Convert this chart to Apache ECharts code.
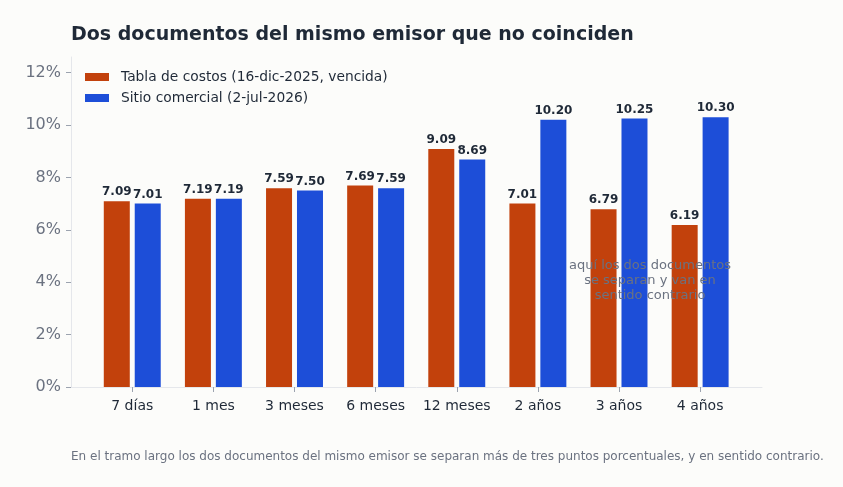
<!DOCTYPE html>
<html><head><meta charset="utf-8">
<script src="https://cdn.jsdelivr.net/npm/echarts@6/dist/echarts.min.js"></script>
<style>html,body{margin:0;padding:0;background:#fcfcfa;}#c{width:843px;height:487px;}</style>
</head><body><div id="c"></div>
<script>
const categories = ['7 días','1 mes','3 meses','6 meses','12 meses','2 años','3 años','4 años'];
const tablaCostos = [7.09, 7.19, 7.59, 7.69, 9.09, 7.01, 6.79, 6.19];
const sitioComercial = [7.01, 7.19, 7.50, 7.59, 8.69, 10.20, 10.25, 10.30];
const seriesNames = ['Tabla de costos (16-dic-2025, vencida)', 'Sitio comercial (2-jul-2026)'];
const titleText = 'Dos documentos del mismo emisor que no coinciden';
const noteText = 'aquí los dos documentos\nse separan y van en\nsentido contrario';
const footText = 'En el tramo largo los dos documentos del mismo emisor se separan más de tres puntos porcentuales, y en sentido contrario.';

const chart = echarts.init(document.getElementById('c'));
const font = 'DejaVu Sans';
const lbl = {show:true, position:'top', distance:3, color:'#1f2937', fontWeight:'bold', fontSize:12, fontFamily:font, formatter: p => p.value.toFixed(2)};
chart.setOption({
  backgroundColor:'#fcfcfa',
  textStyle:{fontFamily:font},
  title:{text:titleText, left:66, top:21, textStyle:{fontSize:19, fontWeight:'bold', color:'#1f2937', fontFamily:font}},
  legend:{orient:'vertical', left:80, top:65, itemWidth:24, itemHeight:8, itemGap:7, icon:'rect',
    textStyle:{fontSize:13.8, color:'#1f2937', fontFamily:font, padding:[0,0,0,7]}, data:seriesNames},
  grid:[
    {left:71, right:81, top:57, bottom:100, containLabel:false},
    {left:91.7, right:102.3, top:57, bottom:100, containLabel:false}
  ],
  xAxis:[
    {type:'value', gridIndex:0, min:0, max:1,
      axisLine:{show:true, lineStyle:{color:'#e5e7eb'}},
      axisTick:{show:false}, axisLabel:{show:false}, splitLine:{show:false}},
    {type:'category', gridIndex:1, data:categories,
      axisLine:{show:false},
      axisTick:{show:true, alignWithLabel:true, length:5, lineStyle:{color:'#9ca3af'}},
      axisLabel:{color:'#1f2937', fontSize:14, margin:12, interval:0, fontFamily:font}}
  ],
  yAxis:[
    {type:'value', gridIndex:0, min:0, max:12.6, interval:2,
      axisLine:{show:true, lineStyle:{color:'#e5e7eb'}},
      axisTick:{show:true, length:5, lineStyle:{color:'#9ca3af'}},
      splitLine:{show:false},
      axisLabel:{color:'#6b7280', fontSize:16, margin:10, padding:[6,0,0,0], fontFamily:font, showMaxLabel:false, formatter: v => v + '%'}},
    {type:'value', gridIndex:1, min:0, max:12.6, interval:2, show:false, splitLine:{show:false}}
  ],
  series:[
    {name:seriesNames[0], type:'bar', xAxisIndex:1, yAxisIndex:1, data:tablaCostos, barWidth:26, barGap:'19%', itemStyle:{color:'#c2410c'}, label:lbl},
    {name:seriesNames[1], type:'bar', xAxisIndex:1, yAxisIndex:1, data:sitioComercial, barWidth:26, itemStyle:{color:'#1d4ed8'}, label:lbl}
  ],
  graphic:[
    {type:'text', z:100, zlevel:1, x:650, y:258, style:{text:noteText, textAlign:'center', fill:'#6b7280', fontSize:13, lineHeight:15, fontFamily:font}},
    {type:'text', left:71, top:451, style:{text:footText, fill:'#6b7280', fontSize:12, fontFamily:font}}
  ]
});
</script></body></html>
